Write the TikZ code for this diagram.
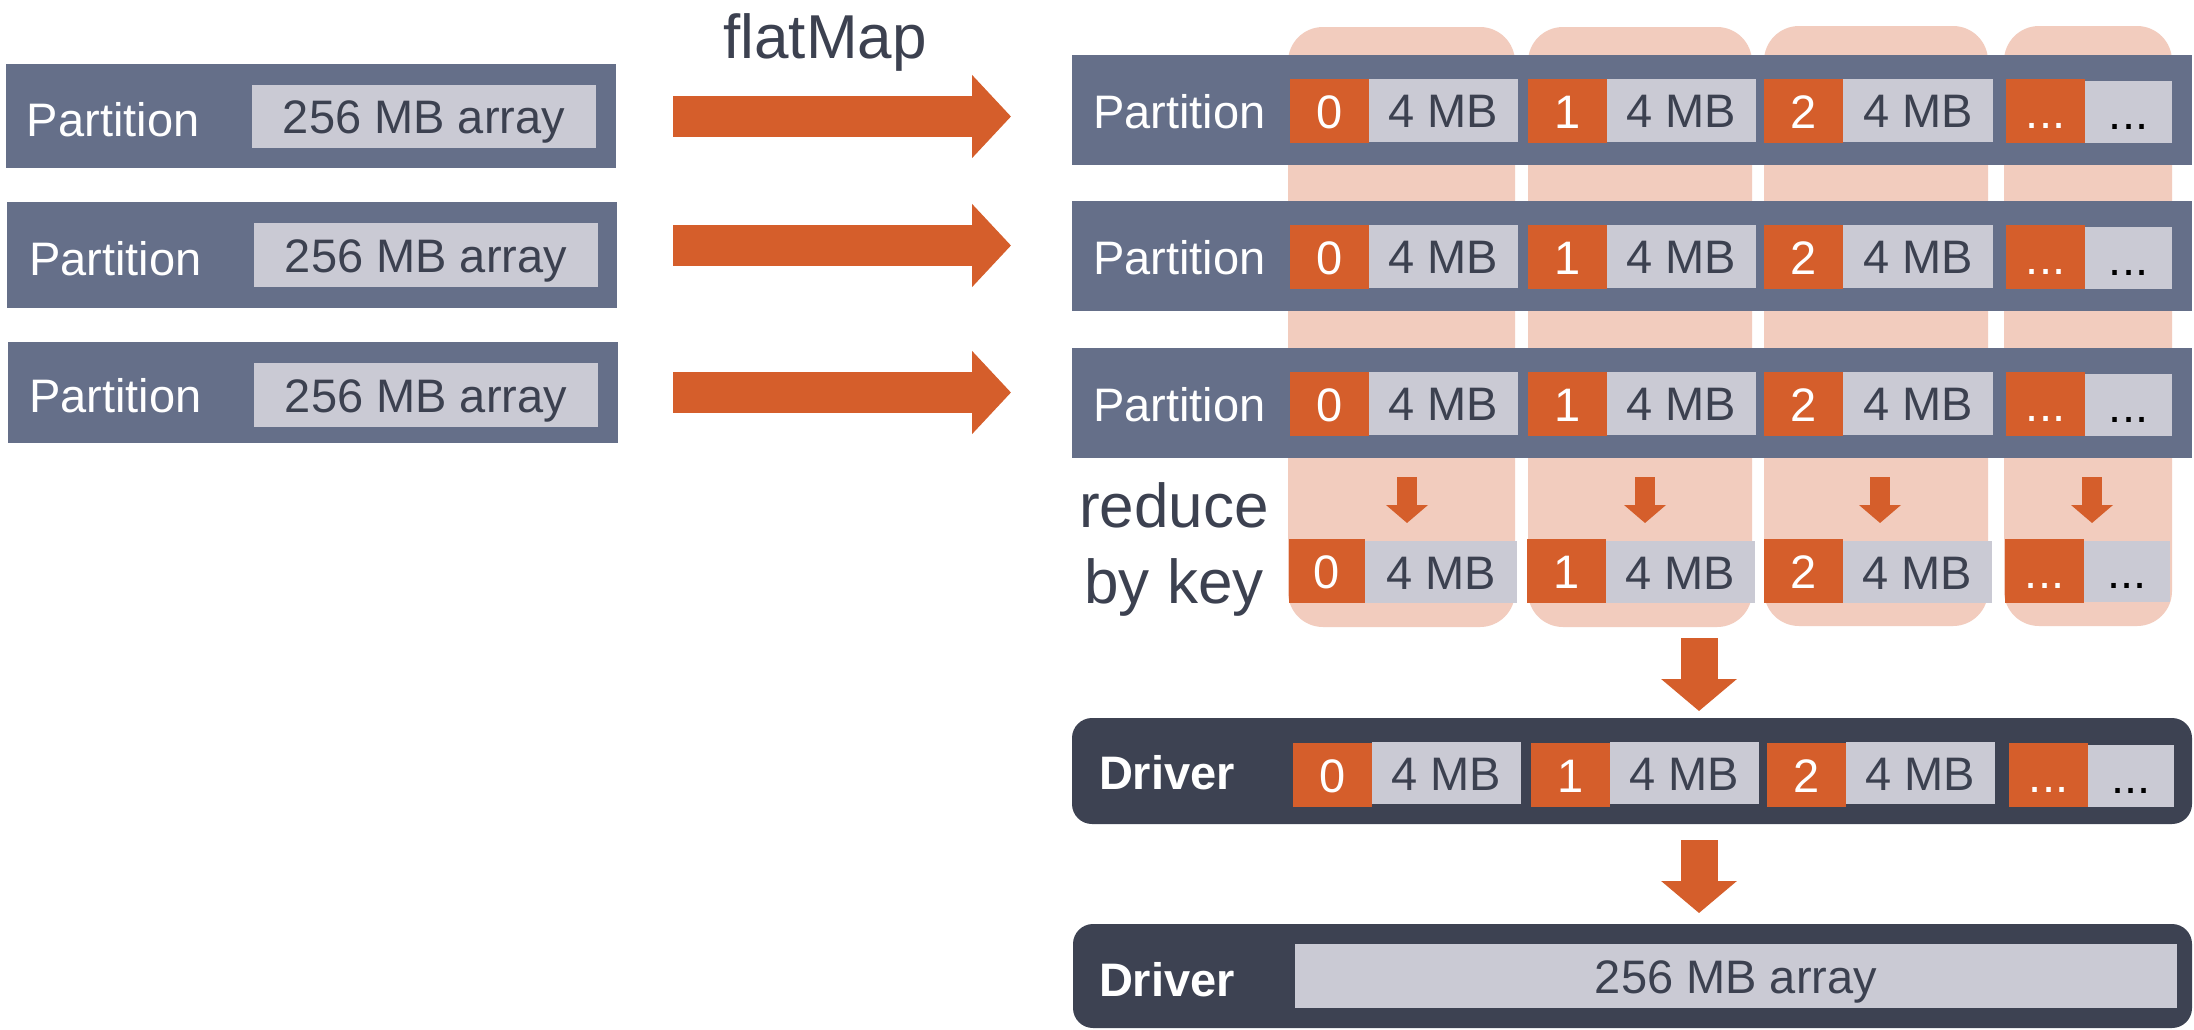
\documentclass[tikz,border=0pt]{standalone}
\usepackage{fontspec}
\setmainfont{Liberation Sans}
\usetikzlibrary{arrows.meta}
\definecolor{slate}{RGB}{101,111,137}
\definecolor{cellgray}{RGB}{202,202,212}
\definecolor{ink}{RGB}{60,65,80}
\definecolor{rust}{RGB}{213,94,43}
\definecolor{blush}{RGB}{242,204,190}
\definecolor{drv}{RGB}{61,66,82}
\newcommand\bx[7]{\node[#6, minimum width={(#4)-(#2)}, minimum height={(#5)-(#3)}] (#1) at ({((#2)+(#4))/2},{((#3)+(#5))/2}) {#7};}
\tikzset{
  plain/.style={inner sep=0pt, outer sep=0pt, draw=none},
  txt/.style={font=\fontsize{47}{56}\selectfont, text height=34pt, text depth=0pt},
  slatebox/.style={plain, fill=slate},
  cell/.style={plain, fill=cellgray, txt, text=ink},
  keycell/.style={plain, fill=rust, txt, text=white},
  column/.style={plain, fill=blush, rounded corners=35pt},
  drvbox/.style={plain, fill=drv, rounded corners=20pt},
  lbl/.style={plain, txt, text=white, anchor=west},
  drvlbl/.style={lbl, font=\fontsize{47}{56}\selectfont\bfseries},
  big/.style={plain, font=\fontsize{62}{76}\selectfont, text=ink, anchor=base},
  harrow/.style={draw=rust, line width=41pt, -{Triangle[width=81pt,length=39pt]}},
  sarrow/.style={draw=rust, line width=20pt, -{Triangle[width=41pt,length=18pt]}},
  barrow/.style={draw=rust, line width=37pt, -{Triangle[width=74pt,length=32pt]}},
}
\begin{document}
\begin{tikzpicture}[x=1pt,y=-1pt]
\useasboundingbox (0,0) rectangle (2194,1029);
\fill[white] (0,0) rectangle (2194,1029);

% key columns
\bx{c0}{1288}{27}{1515}{627}{column}{}
\bx{c1}{1528}{27}{1752}{627}{column}{}
\bx{c2}{1764}{26}{1988}{626}{column}{}
\bx{c3}{2004}{26}{2172}{626}{column}{}

% left partitions
\bx{L1}{6}{64}{616}{168}{slatebox}{}
\node[lbl] (L1t) at (27,119) {Partition};
\bx{L1a}{252}{85}{596}{148}{cell}{256 MB array}
\bx{L2}{7}{202}{617}{308}{slatebox}{}
\node[lbl] (L2t) at (29,258) {Partition};
\bx{L2a}{254}{223}{598}{287}{cell}{256 MB array}
\bx{L3}{8}{342}{618}{443}{slatebox}{}
\node[lbl] (L3t) at (29,395) {Partition};
\bx{L3a}{254}{363}{598}{427}{cell}{256 MB array}

% flatMap label and arrows
\node[big] (fm) at (825,58) {flatMap};
\coordinate (a1s) at (673,116.5); \coordinate (a1e) at (1011,116.5);
\coordinate (a2s) at (673,245.5); \coordinate (a2e) at (1011,245.5);
\coordinate (a3s) at (673,392.5); \coordinate (a3e) at (1011,392.5);
\draw[harrow] (a1s) -- (a1e);
\draw[harrow] (a2s) -- (a2e);
\draw[harrow] (a3s) -- (a3e);

% right partitions
\foreach \n/\t/\b in {1/55/165,2/201/311,3/348/458}{
  \bx{R\n}{1072}{\t}{2192}{\b}{slatebox}{}
  \node[lbl] (R\n-t) at (1093,{(\t+\b)/2+1}) {Partition};
  \foreach \k/\xa/\xb/\xc in {0/1290/1369/1518,1/1528/1607/1756,2/1764/1843/1993}{
    \bx{R\n-k\k}{\xa}{\t+24}{\xb}{\t+88}{keycell}{\k}
    \bx{R\n-v\k}{\xb}{\t+24}{\xc}{\t+87}{cell}{4 MB}
  }
  \bx{R\n-kx}{2006}{\t+24}{2085}{\t+88}{keycell}{...}
  \bx{R\n-vx}{2085}{\t+26}{2172}{\t+88}{cell,text=black}{...}
}

% reduce by key
\node[big] (red1) at (1174,527) {reduce};
\node[big] (red2) at (1174,603) {by key};
\foreach \i/\x in {0/1407,1/1645,2/1880,3/2092}{
  \coordinate (s\i) at (\x,477);
  \coordinate (e\i) at (\x,523);
  \draw[sarrow] (s\i) -- (e\i);
}
\foreach \k/\xa/\xb/\xc in {0/1289/1365/1517,1/1527/1606/1755,2/1764/1843/1992}{
  \bx{K-k\k}{\xa}{539}{\xb}{603}{keycell}{\k}
  \bx{K-v\k}{\xb}{541}{\xc}{603}{cell}{4 MB}
}
\bx{K-kx}{2005}{539}{2084}{603}{keycell}{...}
\bx{K-vx}{2084}{541}{2170}{602}{cell,text=black}{...}

% big down arrows
\coordinate (b1s) at (1699,638); \coordinate (b1e) at (1699,711);
\draw[barrow] (b1s) -- (b1e);

% driver with keys
\bx{D1}{1072}{718}{2192}{824}{drvbox}{}
\node[drvlbl] (D1t) at (1099,772) {Driver};
\foreach \k/\xa/\xb/\xc in {0/1293/1372/1521,1/1531/1610/1759,2/1767/1846/1995}{
  \bx{D-k\k}{\xa}{743}{\xb}{807}{keycell}{\k}
  \bx{D-v\k}{\xb}{742}{\xc}{804}{cell}{4 MB}
}
\bx{D-kx}{2009}{743}{2088}{807}{keycell}{...}
\bx{D-vx}{2088}{745}{2174}{807}{cell,text=black}{...}

\coordinate (b2s) at (1699,840); \coordinate (b2e) at (1699,913);
\draw[barrow] (b2s) -- (b2e);

% final driver
\bx{D2}{1073}{924}{2192}{1028}{drvbox}{}
\node[drvlbl] (D2t) at (1099,979) {Driver};
\bx{D2a}{1295}{944}{2177}{1008}{cell}{256 MB array}
\end{tikzpicture}
\end{document}
